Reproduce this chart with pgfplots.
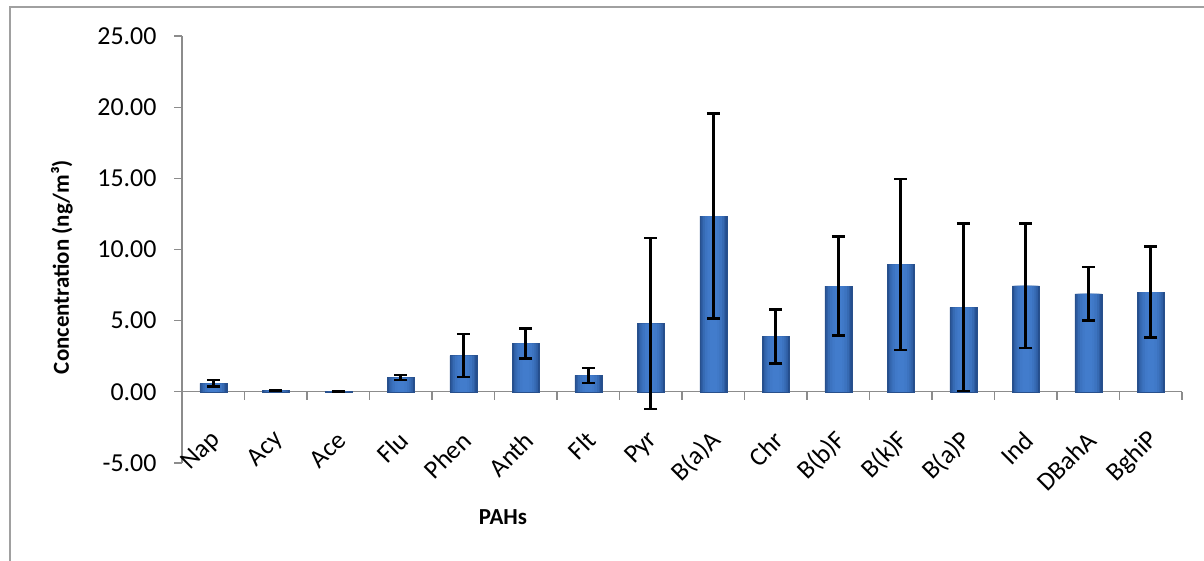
\documentclass[border=0pt]{standalone}
\usepackage{pgfplots}
\usepackage{pgfplotstable}
\pgfplotsset{compat=1.18}
\usepackage{fontspec}
\setmainfont{Carlito}
\definecolor{bdark}{RGB}{36,78,142}
\definecolor{bmid}{RGB}{66,124,204}
\definecolor{bedge}{RGB}{40,80,140}
\definecolor{axgray}{RGB}{140,140,140}
\definecolor{framegray}{RGB}{160,160,160}
\pgfplotstableread{
x y e
0 0.60 0.22
1 0.10 0.03
2 0.02 0.02
3 1.00 0.18
4 2.55 1.50
5 3.40 1.05
6 1.15 0.53
7 4.80 6.00
8 12.35 7.20
9 3.90 1.90
10 7.42 3.48
11 8.95 6.00
12 5.93 5.88
13 7.44 4.37
14 6.88 1.88
15 7.00 3.20
}\datatable
\begin{document}
\begin{tikzpicture}[x=1bp,y=1bp]
\useasboundingbox (0,0) rectangle (1204,561);
\draw[framegray, line width=1.5bp] (10,-20) -- (10,554) -- (1230,554);
\begin{axis}[
  at={(182bp,98bp)}, anchor=south west,
  scale only axis, width=1000bp, height=427bp,
  xmin=-0.5, xmax=15.5, ymin=-5, ymax=25,
  axis x line*=middle, axis y line*=left,
  axis line style={axgray, line width=1.3bp},
  ytick={-5,0,5,10,15,20,25},
  yticklabel={\pgfmathprintnumber[fixed,fixed zerofill,precision=2]{\tick}},
  /pgf/number format/assume math mode=true,
  y tick label style={font=\fontsize{26}{30}\selectfont, xshift=-14bp},
  xtick={0,...,15},
  xticklabels={Nap,Acy,Ace,Flu,Phen,Anth,Flt,Pyr,B(a)A,Chr,B(b)F,B(k)F,B(a)P,Ind,DBahA,BghiP},
  x tick label style={font=\fontsize{26}{30}\selectfont, rotate=45, anchor=east, xshift=-20bp, yshift=-28bp},
  minor xtick={-0.5,0.5,...,15.5},
  tick align=outside,
  major tick length=8bp, minor tick length=8bp,
  x tick style={draw=none},
  minor x tick style={draw=axgray, line width=1.3bp},
  y tick style={axgray, line width=1.3bp},
  ylabel={Concentration (ng/m³)},
  ylabel style={font=\bfseries\fontsize{23}{27}\selectfont, at={(axis description cs:-0.12,0.459)}, anchor=center},
  xlabel={PAHs},
  xlabel style={font=\bfseries\fontsize{23}{27}\selectfont, at={(axis description cs:0.321,-0.126)}, anchor=center},
  clip=false,
]
\addplot[ybar, bar width=27bp, fill=bdark, draw=bedge, line width=0.5bp] table[x=x,y=y] {\datatable};
\addplot[ybar, bar width=24bp, fill=bmid!35!bdark, draw=none] table[x=x,y=y] {\datatable};
\addplot[ybar, bar width=21bp, fill=bmid!60!bdark, draw=none] table[x=x,y=y] {\datatable};
\addplot[ybar, bar width=17bp, fill=bmid!80!bdark, draw=none] table[x=x,y=y] {\datatable};
\addplot[ybar, bar width=12bp, fill=bmid!93!bdark, draw=none] table[x=x,y=y] {\datatable};
\addplot[ybar, bar width=7bp, fill=bmid, draw=none] table[x=x,y=y] {\datatable};
\addplot[draw=none, mark=none,
  error bars/.cd, y dir=both, y explicit,
  error bar style={black, line width=2.6bp},
  error mark options={rotate=90, mark size=6.5bp, line width=2.6bp, black}]
  table[x=x, y=y, y error=e] {\datatable};
\end{axis}
\end{tikzpicture}
\end{document}
